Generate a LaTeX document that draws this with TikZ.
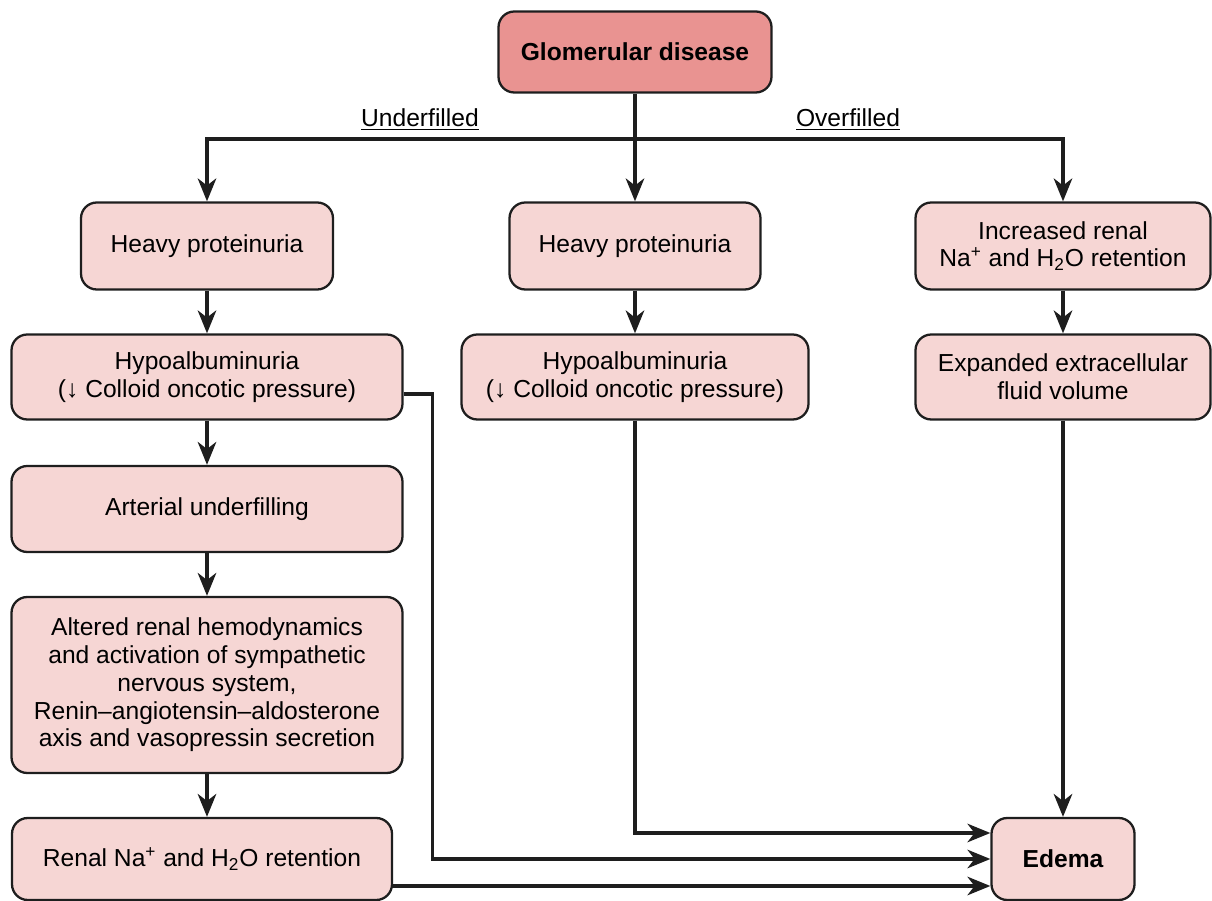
\documentclass[tikz,border=0pt]{standalone}
\usepackage{fontspec}
\setmainfont{Liberation Sans}
\usepackage{xcolor}
\definecolor{boxpink}{HTML}{F6D6D4}
\definecolor{toppink}{HTML}{E99391}
\definecolor{linegray}{HTML}{1E1E1E}
\usepackage{tikz}
\usetikzlibrary{arrows.meta,positioning,calc}

\begin{document}
\begin{tikzpicture}[x=0.2mm, y=-0.2mm, font=\fontsize{14}{15.8}\selectfont,
  box/.style={rectangle, draw=linegray, line width=1.3pt, fill=boxpink,
    rounded corners=9pt, align=center, inner sep=2pt},
  topbox/.style={box, fill=toppink, font=\fontsize{14}{15.8}\selectfont\bfseries},
  conn/.style={draw=linegray, line width=2.1pt,
    -{Stealth[length=13pt, width=10.5pt, inset=4pt]}}]
  \useasboundingbox (0,0) rectangle (1212,901);

  % top
  \node[topbox, minimum width=5.46cm, minimum height=1.62cm] (glom) at (635,52) {Glomerular disease};
  \coordinate (split) at (635,139);
  \node[anchor=base] (under) at (420,127) {\underline{Underfilled}};
  \node[anchor=base] (over) at (848,127) {\underline{Overfilled}};

  % underfilled column
  \node[box, minimum width=5.04cm, minimum height=1.74cm] (lheavy) at (207,246) {Heavy proteinuria};
  \node[box, minimum width=7.82cm, minimum height=1.7cm] (lhypo) at (207,377)
    {Hypoalbuminuria\\(↓ Colloid oncotic pressure)};
  \node[box, minimum width=7.82cm, minimum height=1.72cm] (lart) at (207,509) {Arterial underfilling};
  \node[box, minimum width=7.82cm, minimum height=3.52cm] (lalt) at (207,685)
    {Altered renal hemodynamics\\and activation of sympathetic\\nervous system,\\
     Renin--angiotensin--aldosterone\\axis and vasopressin secretion};
  \node[box, minimum width=7.6cm, minimum height=1.64cm] (lrenal) at (202,859)
    {Renal Na\textsuperscript{+} and H\textsubscript{2}O retention};

  % middle column
  \node[box, minimum width=5.02cm, minimum height=1.74cm] (mheavy) at (635,246) {Heavy proteinuria};
  \node[box, minimum width=6.94cm, minimum height=1.7cm] (mhypo) at (635,377)
    {Hypoalbuminuria\\(↓ Colloid oncotic pressure)};

  % overfilled column
  \node[box, minimum width=5.9cm, minimum height=1.74cm] (rinc) at (1063,246)
    {Increased renal\\Na\textsuperscript{+} and H\textsubscript{2}O retention};
  \node[box, minimum width=5.9cm, minimum height=1.7cm] (rexp) at (1063,377)
    {Expanded extracellular\\fluid volume};
  \node[box, minimum width=2.86cm, minimum height=1.64cm, font=\fontsize{14}{15.8}\selectfont\bfseries]
    (edema) at (1063,859) {Edema};

  % connectors
  \draw[conn] (glom) -- (mheavy);
  \draw[conn] (split) -| (lheavy.north);
  \draw[conn] (split) -| (rinc.north);
  \draw[conn] (lheavy) -- (lhypo);
  \draw[conn] (lhypo) -- (lart);
  \draw[conn] (lart) -- (lalt);
  \draw[conn] (lalt.south) -- (lalt.south |- lrenal.north);
  \draw[conn] (mheavy) -- (mhypo);
  \draw[conn] (rinc) -- (rexp);
  \draw[conn] (rexp) -- (edema);
  \draw[conn] (mhypo.south) |- ($(edema.west)+(0,-26)$);
  \draw[conn] ($(lhypo.east)+(0,17)$) -- ++(29,0) |- (edema.west);
  \draw[conn] ($(lrenal.east)+(0,27)$) -- ($(edema.west)+(0,27)$);
\end{tikzpicture}
\end{document}
